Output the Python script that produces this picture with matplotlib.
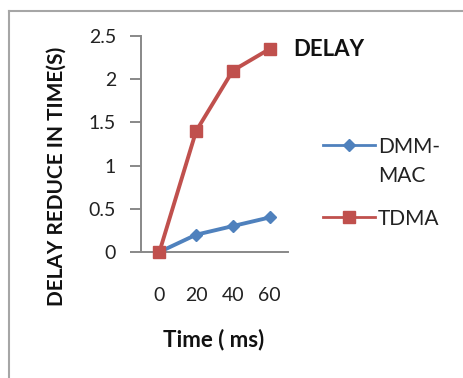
import matplotlib
matplotlib.use("Agg")
import matplotlib.pyplot as plt
from matplotlib.lines import Line2D

plt.rcParams['font.family'] = ['Lato', 'DejaVu Sans']

categories = ['0', '20', '40', '60']
dmm_mac = [0.0, 0.2, 0.3, 0.4]
tdma = [0.0, 1.4, 2.1, 2.35]
yticks = [0, 0.5, 1, 1.5, 2, 2.5]
ytick_labels = ['0', '0.5', '1', '1.5', '2', '2.5']
series_names = ['DMM-\nMAC', 'TDMA']

W, H = 464, 378
fig = plt.figure(figsize=(W / 100, H / 100), dpi=100)
fig.patch.set_facecolor('white')


def fx(px):
    return px / W


def fy(py):
    return 1 - py / H


# outer chart frame (cropped on right/bottom)
fig.add_artist(Line2D([fx(9), fx(9)], [fy(11), 0], transform=fig.transFigure,
                      color='#a6a6a6', lw=1.5))
fig.add_artist(Line2D([fx(9), 1], [fy(11), fy(11)], transform=fig.transFigure,
                      color='#a6a6a6', lw=1.5))

ax = fig.add_axes([fx(141), fy(252), 147 / W, 216 / H])
x = list(range(len(categories)))
blue = '#4F81BD'
red = '#C0504D'
ax.plot(x, dmm_mac, color=blue, lw=2.8, marker='D', markersize=6.6, clip_on=False)
ax.plot(x, tdma, color=red, lw=2.8, marker='s', markersize=9.2, clip_on=False)

ax.set_xlim(-0.5, 3.5)
ax.set_ylim(0, 2.5)
ax.set_xticks(x)
ax.set_xticklabels(categories)
ax.set_yticks(yticks)
ax.set_yticklabels(ytick_labels)

for s in ['top', 'right']:
    ax.spines[s].set_visible(False)
for s in ['left', 'bottom']:
    ax.spines[s].set_color('#888888')
    ax.spines[s].set_linewidth(1.4)
    ax.spines[s].set_zorder(1)
ax.tick_params(axis='y', length=8, width=1.4, color='#888888', pad=10,
               labelsize=14, labelcolor='#222222')
ax.tick_params(axis='x', length=0, pad=25, labelsize=14, labelcolor='#222222')

fig.text(fx(56.5), fy(176), 'DELAY REDUCE IN TIME(S)', rotation=90, ha='center',
         va='center', fontsize=15, fontweight='bold', color='#111111')
fig.text(fx(214), fy(339.5), 'Time ( ms)', ha='center', va='center',
         fontsize=16, fontweight='bold', color='#111111')
fig.text(fx(293), fy(56.5), 'DELAY', ha='left', va='baseline',
         fontsize=16, fontweight='bold', color='#111111')

# legend drawn manually to match layout (handle aligned with first text line)
leg_items = [
    (series_names[0], blue, 'D', 6.4, 145, 152.5),
    (series_names[1], red, 's', 8.0, 217, 225.5),
]
for name, col, mk, ms, ly, base in leg_items:
    fig.add_artist(Line2D([fx(323), fx(375)], [fy(ly), fy(ly)], transform=fig.transFigure,
                          color=col, lw=2.0))
    fig.add_artist(Line2D([fx(349)], [fy(ly)], transform=fig.transFigure,
                          color=col, marker=mk, markersize=ms, lw=0))
    lines = name.split('\n')
    for i, t in enumerate(lines):
        fig.text(fx(378), fy(base + i * 29), t, ha='left', va='baseline',
                 fontsize=15, color='#222222')

fig.savefig('out.png', dpi=100, facecolor='white')
